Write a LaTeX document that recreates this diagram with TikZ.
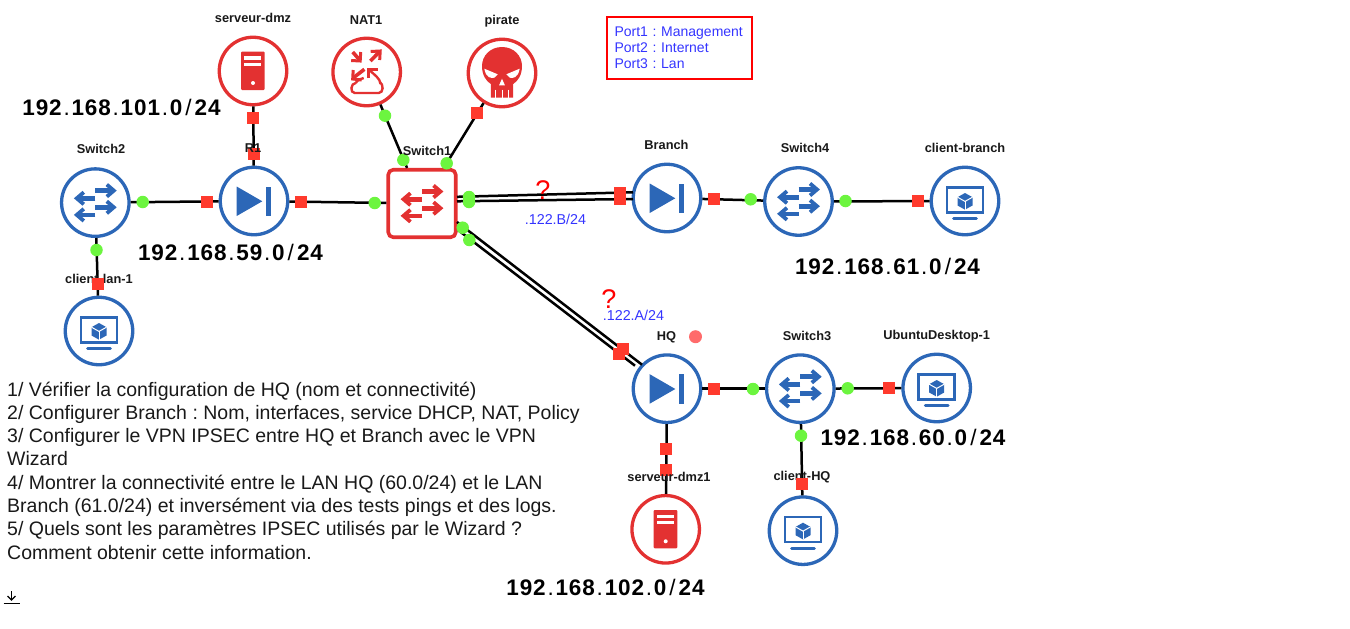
\documentclass[tikz,border=0pt]{standalone}
\usepackage{fontspec}
\setmainfont{Liberation Sans}
\newfontfamily\netfont[LetterSpace=4]{Liberation Sans}
\newcommand{\ipdot}{\kern1.8pt{\mdseries.}\kern1.8pt}
\newcommand{\ipslash}{\kern3pt{\mdseries/}\kern3pt}

\definecolor{iconred}{HTML}{E33131}
\definecolor{iconblue}{HTML}{2C67B7}
\definecolor{portred}{HTML}{FF3A2D}
\definecolor{portgreen}{HTML}{6CF53F}
\definecolor{dotred}{HTML}{FF6B6B}
\definecolor{notered}{HTML}{FF0000}
\definecolor{noteblue}{HTML}{3434FF}

\tikzset{
pics/routericon/.style={code={
  \fill[#1] (-17.3,-14.5) -- (-17.3,15) -- (8.3,0.3) -- cycle;
  \fill[#1] (12,-14.5) rectangle (16.7,15);
}},
pics/switchicon/.style={code={
  \draw[#1, line width=4.6pt] (0,-12) -- (16.5,-12);
  \draw[#1, line width=3.8pt] (11.5,-18) -- (18.5,-12) -- (11.5,-6);
  \draw[#1, line width=4.6pt] (0,-4.3) -- (-16.5,-4.3);
  \draw[#1, line width=3.8pt] (-11.5,-10.3) -- (-18.5,-4.3) -- (-11.5,1.7);
  \draw[#1, line width=4.6pt] (0,4.7) -- (16.5,4.7);
  \draw[#1, line width=3.8pt] (11.5,-1.3) -- (18.5,4.7) -- (11.5,10.7);
  \draw[#1, line width=4.6pt] (0,12.3) -- (-16.5,12.3);
  \draw[#1, line width=3.8pt] (-11.5,6.3) -- (-18.5,12.3) -- (-11.5,18.3);
}},
pics/servericon/.style={code={
  \fill[#1, rounded corners=1pt] (-12,-19.3) rectangle (11.7,19);
  \fill[white] (-8.7,-14.7) rectangle (8.3,-11.3);
  \fill[white] (-8.7,-8.3) rectangle (8.3,-5);
  \fill[white] (0,12) circle (2);
}},
pics/clienticon/.style={code={
  \draw[#1, line width=2.3pt] (-18.3,-13.5) rectangle (17.7,11.5);
  \draw[#1, line width=2.6pt, line cap=round] (-11.5,17.5) -- (11.5,17.5);
  \fill[#1] (0,-8) -- (7.5,-3.8) -- (7.5,4.5) -- (0,8.7) -- (-7.5,4.5) -- (-7.5,-3.8) -- cycle;
  \draw[white, line width=1pt] (-7.5,-3.8) -- (0,0.4) -- (7.5,-3.8);
  \draw[white, line width=1pt] (0,0.4) -- (0,8.7);
}},
pics/naticon/.style={code={
  \draw[#1, line width=3.6pt] (-14,-20) -- (-7.5,-12.5);
  \draw[#1, line width=3pt] (-15.5,-11.5) -- (-6.5,-11) -- (-6,-20);
  \draw[#1, line width=3.6pt] (3.7,-11) -- (12.5,-20);
  \draw[#1, line width=3pt] (4,-20.5) -- (13.5,-21) -- (13,-12);
  \draw[#1, line width=3.6pt] (-2.3,-2.7) -- (-13,5.5);
  \draw[#1, line width=3pt] (-5,8) -- (-14,7) -- (-13.5,-2);
  \draw[#1, line width=2.4pt] (2,-2.5) .. controls (8,3) and (13,6) .. (14,12);
  \draw[#1, line width=3pt] (1.5,6) -- (1.5,-3) -- (11,-3);
  \draw[#1, line width=2.4pt, rounded corners=1pt] (-11,11) .. controls (-16,11) and (-17,21) .. (-11,21) -- (11,21) .. controls (17,21) and (17,12) .. (13,10);
  \draw[#1, line width=2.4pt] (-11,11) .. controls (-9,8) and (-6,6.5) .. (-3,6);
}},
pics/skullicon/.style={code={
  \fill[#1] (0,-26) .. controls (12,-26) and (20,-17) .. (20,-7)
    .. controls (20,2) and (16,8) .. (11.2,11) -- (11.2,24.7) -- (-11.2,24.7) -- (-11.2,11)
    .. controls (-16,8) and (-20,2) .. (-20,-7) .. controls (-20,-17) and (-12,-26) .. (0,-26) -- cycle;
  \fill[white] (-17.7,-4.3) -- (-4.3,1.3) -- (-7.7,4.7) .. controls (-11,5.5) and (-16,5) .. (-17.7,-4.3) -- cycle;
  \fill[white] (17.7,-4.3) -- (4.3,1.3) -- (7.7,4.7) .. controls (11,5.5) and (16,5) .. (17.7,-4.3) -- cycle;
  \fill[white] (0,5.7) -- (-2.9,12.3) -- (2.9,12.3) -- cycle;
  \draw[white, line width=1pt] (-6.7,16.5) -- (-6.7,25);
  \draw[white, line width=1pt] (0,16.5) -- (0,25);
  \draw[white, line width=1pt] (6.7,16.5) -- (6.7,25);
}},
}

\begin{document}
\frenchspacing
\begin{tikzpicture}[
x=1pt, y=-1pt,
bluenode/.style={circle, draw=iconblue, line width=3.3pt, minimum size=67.5pt, inner sep=0pt},
rednode/.style={circle, draw=iconred, line width=3.3pt, minimum size=67.5pt, inner sep=0pt},
redbox/.style={rectangle, rounded corners=5pt, draw=iconred, line width=3.6pt, minimum size=67.5pt, inner sep=0pt},
greenport/.style={circle, fill=portgreen, minimum size=12.5pt, inner sep=0pt},
redport/.style={rectangle, fill=portred, minimum size=12pt, inner sep=0pt},
link/.style={draw=black, line width=2.5pt},
devname/.style={font=\fontsize{12.8}{14}\selectfont\bfseries, text=black!90, inner sep=0pt},
netname/.style={font=\netfont\fontsize{22.5}{24}\selectfont\bfseries, inner sep=0pt},
bluenote/.style={font=\fontsize{14.3}{16}\selectfont, text=noteblue, inner sep=0pt},
qmark/.style={font=\fontsize{27}{28}\selectfont, text=notered, inner sep=0pt},
]
\useasboundingbox (0,0) rectangle (1350,629);

% Defining the devices
\node[rednode] (serveur_dmz) at (253,71) {};
\node[rednode] (NAT1) at (366.7,72) {};
\node[rednode] (pirate) at (502,73) {};
\node[bluenode] (Switch2) at (95.3,202.6) {};
\node[bluenode] (R1) at (254,201) {};
\node[redbox] (Switch1) at (422,203.5) {};
\node[bluenode] (client_lan) at (99,331) {};
\node[bluenode] (Branch) at (667,198) {};
\node[bluenode] (Switch4) at (798.5,201.5) {};
\node[bluenode] (client_branch) at (965,201) {};
\node[bluenode] (HQ) at (667,388.7) {};
\node[bluenode] (Switch3) at (800.3,388.7) {};
\node[bluenode] (Ubuntu) at (936.7,388) {};
\node[rednode] (serveur_dmz1) at (665.7,529.3) {};
\node[bluenode] (client_HQ) at (803,530.7) {};

% Icons inside the devices
\pic at (serveur_dmz) {servericon=iconred};
\pic at (NAT1) {naticon=iconred};
\pic at (pirate) {skullicon=iconred};
\pic at (Switch2) {switchicon=iconblue};
\pic at (R1) {routericon=iconblue};
\pic at (Switch1) {switchicon=iconred};
\pic at (client_lan) {clienticon=iconblue};
\pic at (Branch) {routericon=iconblue};
\pic at (Switch4) {switchicon=iconblue};
\pic at (client_branch) {clienticon=iconblue};
\pic at (HQ) {routericon=iconblue};
\pic at (Switch3) {switchicon=iconblue};
\pic at (Ubuntu) {clienticon=iconblue};
\pic at (serveur_dmz1) {servericon=iconred};
\pic at (client_HQ) {clienticon=iconblue};

% Ends of the double links
\coordinate (sw1_b1) at (457,196.8);
\coordinate (sw1_b2) at (457,201.3);
\coordinate (branch_1) at (633,192.3);
\coordinate (branch_2) at (633,199);
\coordinate (sw1_h1) at (457,222);
\coordinate (sw1_h2) at (458,230);
\coordinate (hq_1) at (642,364.7);
\coordinate (hq_2) at (635,365.7);

% Links between the devices
\draw[link] (serveur_dmz) -- (R1);
\draw[link] (NAT1) -- (Switch1);
\draw[link] (pirate) -- (Switch1);
\draw[link] (Switch2) -- (R1);
\draw[link] (R1) -- (Switch1);
\draw[link] (Switch2) -- (client_lan);
\draw[link] (sw1_b1) -- (branch_1);
\draw[link] (sw1_b2) -- (branch_2);
\draw[link] (sw1_h1) -- (hq_1);
\draw[link] (sw1_h2) -- (hq_2);
\draw[link] (Branch) -- (Switch4);
\draw[link] (Switch4) -- (client_branch);
\draw[link] (HQ) -- (Switch3);
\draw[link] (Switch3) -- (Ubuntu);
\draw[link] (HQ) -- (serveur_dmz1);
\draw[link] (Switch3) -- (client_HQ);

% Names partly hidden by a port
\node[devname] (l_client_lan) at (99,279) {client-lan-1};
\node[devname] (l_client_HQ) at (802,477.5) {client-HQ};

% Ports on the links
\node[redport] (p1) at (253,118) {};
\node[redport] (p2) at (253.5,154) {};
\node[greenport] (p3) at (385,115.7) {};
\node[greenport] (p4) at (403.3,160) {};
\node[redport] (p5) at (477.3,113.3) {};
\node[greenport] (p6) at (446.7,163.3) {};
\node[greenport] (p7) at (142.7,202) {};
\node[redport] (p8) at (206.7,202) {};
\node[redport] (p9) at (301,202) {};
\node[greenport] (p10) at (374.7,203) {};
\node[greenport] (p11) at (96.5,250) {};
\node[redport] (p12) at (97.5,284) {};
\node[greenport] (p13) at (469,197) {};
\node[greenport] (p14) at (469,202) {};
\node[redport] (p15) at (619.5,193) {};
\node[redport] (p16) at (619.5,198.7) {};
\node[greenport] (p17) at (462.7,227.7) {};
\node[greenport] (p18) at (469.3,240) {};
\node[redport] (p19) at (619.3,354) {};
\node[redport] (p20) at (623.3,349.3) {};
\node[redport] (p21) at (714,199) {};
\node[greenport] (p22) at (750.7,199.3) {};
\node[greenport] (p23) at (845.5,201) {};
\node[redport] (p24) at (918,201) {};
\node[redport] (p25) at (714,389.3) {};
\node[greenport] (p26) at (753,389) {};
\node[greenport] (p27) at (847.7,388.3) {};
\node[redport] (p28) at (889,388.3) {};
\node[redport] (p29) at (666.3,449) {};
\node[redport] (p30) at (666,469.7) {};
\node[greenport] (p31) at (801,435.7) {};
\node[redport] (p32) at (802,483.7) {};
\node[circle, fill=dotred, minimum size=13pt, inner sep=0pt] (hq_dot) at (695.5,336.7) {};

% Names of the devices
\node[devname] (l_serveur_dmz) at (253,18) {serveur-dmz};
\node[devname] (l_NAT1) at (366,20.5) {NAT1};
\node[devname] (l_pirate) at (502,21) {pirate};
\node[devname] (l_Switch2) at (101,149) {Switch2};
\node[devname] (l_R1) at (253,148.5) {R1};
\node[devname] (l_Switch1) at (427,151) {Switch1};
\node[devname] (l_Branch) at (666.5,144.5) {Branch};
\node[devname] (l_Switch4) at (805,148) {Switch4};
\node[devname] (l_client_branch) at (965,148) {client-branch};
\node[devname] (l_HQ) at (666.5,337) {HQ};
\node[devname] (l_Switch3) at (807,336) {Switch3};
\node[devname] (l_Ubuntu) at (936.7,336) {UbuntuDesktop-1};
\node[devname] (l_serveur_dmz1) at (669,476.7) {serveur-dmz1};

% Networks
\node[netname] (net101) at (121.5,107.5) {192\ipdot 168\ipdot 101\ipdot 0\ipslash 24};
\node[netname] (net59) at (230.5,252.5) {192\ipdot 168\ipdot 59\ipdot 0\ipslash 24};
\node[netname] (net61) at (887.5,266) {192\ipdot 168\ipdot 61\ipdot 0\ipslash 24};
\node[netname] (net60) at (913,437) {192\ipdot 168\ipdot 60\ipdot 0\ipslash 24};
\node[netname] (net102) at (605.5,587) {192\ipdot 168\ipdot 102\ipdot 0\ipslash 24};

% Notes
\node[draw=notered, line width=2pt, minimum height=62pt, inner xsep=8pt, inner ysep=0pt, text=noteblue, align=left, text width=129pt, font=\fontsize{14}{16}\selectfont] (ports) at (679,47.5) {Port1 : Management\\Port2 : Internet\\Port3 : Lan};
\node[bluenote] (ip_b) at (555.5,219) {.122.B/24};
\node[bluenote] (ip_a) at (633.5,315) {.122.A/24};
\node[qmark] (q_b) at (543,190) {?};
\node[qmark] (q_a) at (609,299.5) {?};

\node[anchor=north west, align=left, inner sep=0pt, text=black!90, font=\fontsize{19.5}{23.3}\selectfont] (tasks) at (7,381.5) {1/ Vérifier la configuration de HQ (nom et connectivité)\\
2/ Configurer Branch : Nom, interfaces, service DHCP, NAT, Policy\\
3/ Configurer le VPN IPSEC entre HQ et Branch avec le VPN\\
Wizard\\
4/ Montrer la connectivité entre le LAN HQ (60.0/24) et le LAN\\
Branch (61.0/24) et inversément via des tests pings et des logs.\\
5/ Quels sont les paramètres IPSEC utilisés par le Wizard ?\\
Comment obtenir cette information.};

% Download mark
\draw[line width=1.3pt] (11.5,591) -- (11.5,600);
\draw[line width=1.3pt] (7.5,596) -- (11.5,600) -- (15.5,596);
\draw[line width=1.3pt] (3.5,603.5) -- (20,603.5);

\end{tikzpicture}
\end{document}
